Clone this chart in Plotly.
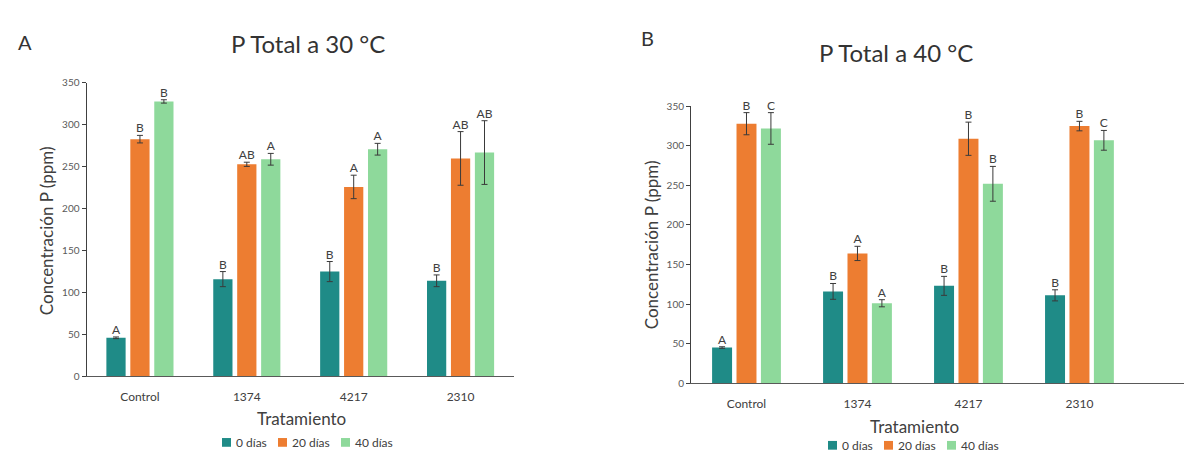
import plotly.graph_objects as go

categories = ["Control", "1374", "4217", "2310"]
series = ["0 días", "20 días", "40 días"]
colors = ["#1F8B87", "#ED7D31", "#8ED99B"]
y_ticks = [0, 50, 100, 150, 200, 250, 300, 350]

# Panel A: 30 °C
p30_0 = [46, 116, 125, 114]
p30_20 = [283, 253, 226, 260]
p30_40 = [328, 259, 271, 267]
err30_0 = [1, 9, 12, 7]
err30_20 = [4.5, 2.5, 14, 32]
err30_40 = [2, 7, 7, 38]
lab30_0 = ["A", "B", "B", "B"]
lab30_20 = ["B", "AB", "A", "AB"]
lab30_40 = ["B", "A", "A", "AB"]

# Panel B: 40 °C
p40_0 = [45, 116, 123, 111]
p40_20 = [328, 164, 309, 325]
p40_40 = [322, 101, 252, 307]
err40_0 = [1, 10, 12, 7]
err40_20 = [14, 9, 21, 6]
err40_40 = [20, 4.5, 22, 12.5]
lab40_0 = ["A", "B", "B", "B"]
lab40_20 = ["B", "A", "B", "B"]
lab40_40 = ["C", "A", "B", "C"]

W, H = 1192, 454
FONT = "Lato"
def px(x):
    return x / W
def py(y):
    return 1 - y / H

fig = go.Figure()

panels = [
    dict(vals=[p30_0, p30_20, p30_40], errs=[err30_0, err30_20, err30_40],
         labs=[lab30_0, lab30_20, lab30_40], xa="x", ya="y", slot=0.224, width=0.18),
    dict(vals=[p40_0, p40_20, p40_40], errs=[err40_0, err40_20, err40_40],
         labs=[lab40_0, lab40_20, lab40_40], xa="x2", ya="y2", slot=0.22, width=0.18),
]

idx = list(range(len(categories)))
for p in panels:
    for j, name in enumerate(series):
        xs = [i + (j - 1) * p["slot"] for i in idx]
        fig.add_trace(go.Bar(
            x=xs, y=p["vals"][j], width=p["width"], name=name,
            marker=dict(color=colors[j], line=dict(width=0)),
            error_y=dict(type="data", array=p["errs"][j], color="#3a3a3a", thickness=1, width=3),
            xaxis=p["xa"], yaxis=p["ya"], showlegend=False,
        ))
    for j, name in enumerate(series):
        xs = [i + (j - 1) * p["slot"] for i in idx]
        tops = [v + e for v, e in zip(p["vals"][j], p["errs"][j])]
        fig.add_trace(go.Scatter(
            x=xs, y=tops, mode="text", text=p["labs"][j], textposition="top center",
            textfont=dict(size=12, color="#404040", family=FONT),
            xaxis=p["xa"], yaxis=p["ya"], showlegend=False, cliponaxis=False, hoverinfo="skip",
        ))

common_x = dict(tickmode="array", tickvals=idx, ticktext=categories, showline=True,
                linecolor="#595959", linewidth=1, showgrid=False, zeroline=False,
                ticks="outside", ticklen=9, tickcolor="rgba(0,0,0,0)",
                tickfont=dict(size=12, color="#404040", family=FONT), fixedrange=True)
common_y = dict(range=[0, 350], tickvals=y_ticks, showline=True, linecolor="#404040", linewidth=1,
                showgrid=False, zeroline=False, ticks="outside", ticklen=4, tickcolor="#404040",
                tickfont=dict(size=10, color="#595959", family=FONT), fixedrange=True)

fig.update_layout(
    width=W, height=H, margin=dict(l=0, r=0, t=0, b=0),
    paper_bgcolor="white", plot_bgcolor="white",
    font=dict(family=FONT, color="#404040"),
    barmode="overlay",
    xaxis=dict(domain=[px(78.5), px(506)], range=[-0.5, 3.5], anchor="y", **common_x),
    yaxis=dict(domain=[py(372), py(70)], anchor="x", **common_y),
    xaxis2=dict(domain=[px(683), px(1188)], range=[-0.5, 4.05], anchor="y2", **common_x),
    yaxis2=dict(domain=[py(379), py(94)], anchor="x2", **common_y),
    showlegend=False,
)

ann = [
    dict(text="A", x=px(17), y=py(28), size=20),
    dict(text="P Total a 30 °C", x=px(300), y=py(29), size=24),
    dict(text="B", x=px(639), y=py(24), size=20),
    dict(text="P Total a 40 °C", x=px(888), y=py(39), size=24),
    dict(text="Tratamiento", x=px(293), y=py(415), size=17),
    dict(text="Tratamiento", x=px(906), y=py(424), size=17),
]
for a in ann:
    fig.add_annotation(text=a["text"], x=a["x"], y=a["y"], xref="paper", yref="paper",
                       showarrow=False, xanchor="center", yanchor="middle",
                       font=dict(size=a["size"], color="#333333" if a["size"] >= 20 else "#404040", family=FONT))
for xx, yy in [(38.5, 222), (643, 237)]:
    fig.add_annotation(text="Concentración P (ppm)", x=px(xx), y=py(yy), xref="paper", yref="paper",
                       showarrow=False, textangle=-90, xanchor="center", yanchor="middle",
                       font=dict(size=17, color="#404040", family=FONT))

# compact legends (square swatch + label), one under each panel
text_w = {"0 días": 34, "20 días": 41, "40 días": 41}
SQ, GAP, SPACING = 9, 3, 10
for cx, cy in [(300, 440), (906, 443)]:
    total = sum(SQ + GAP + text_w[s] for s in series) + SPACING * (len(series) - 1)
    x0 = cx - total / 2
    for j, s in enumerate(series):
        fig.add_shape(type="rect", xref="paper", yref="paper",
                      x0=px(x0), x1=px(x0 + SQ), y0=py(cy + SQ / 2), y1=py(cy - SQ / 2),
                      fillcolor=colors[j], line=dict(width=0))
        fig.add_annotation(text=s, x=px(x0 + SQ + GAP), y=py(cy), xref="paper", yref="paper",
                           showarrow=False, xanchor="left", yanchor="middle",
                           font=dict(size=12, color="#404040", family=FONT))
        x0 += SQ + GAP + text_w[s] + SPACING

fig.write_html("out.html")
